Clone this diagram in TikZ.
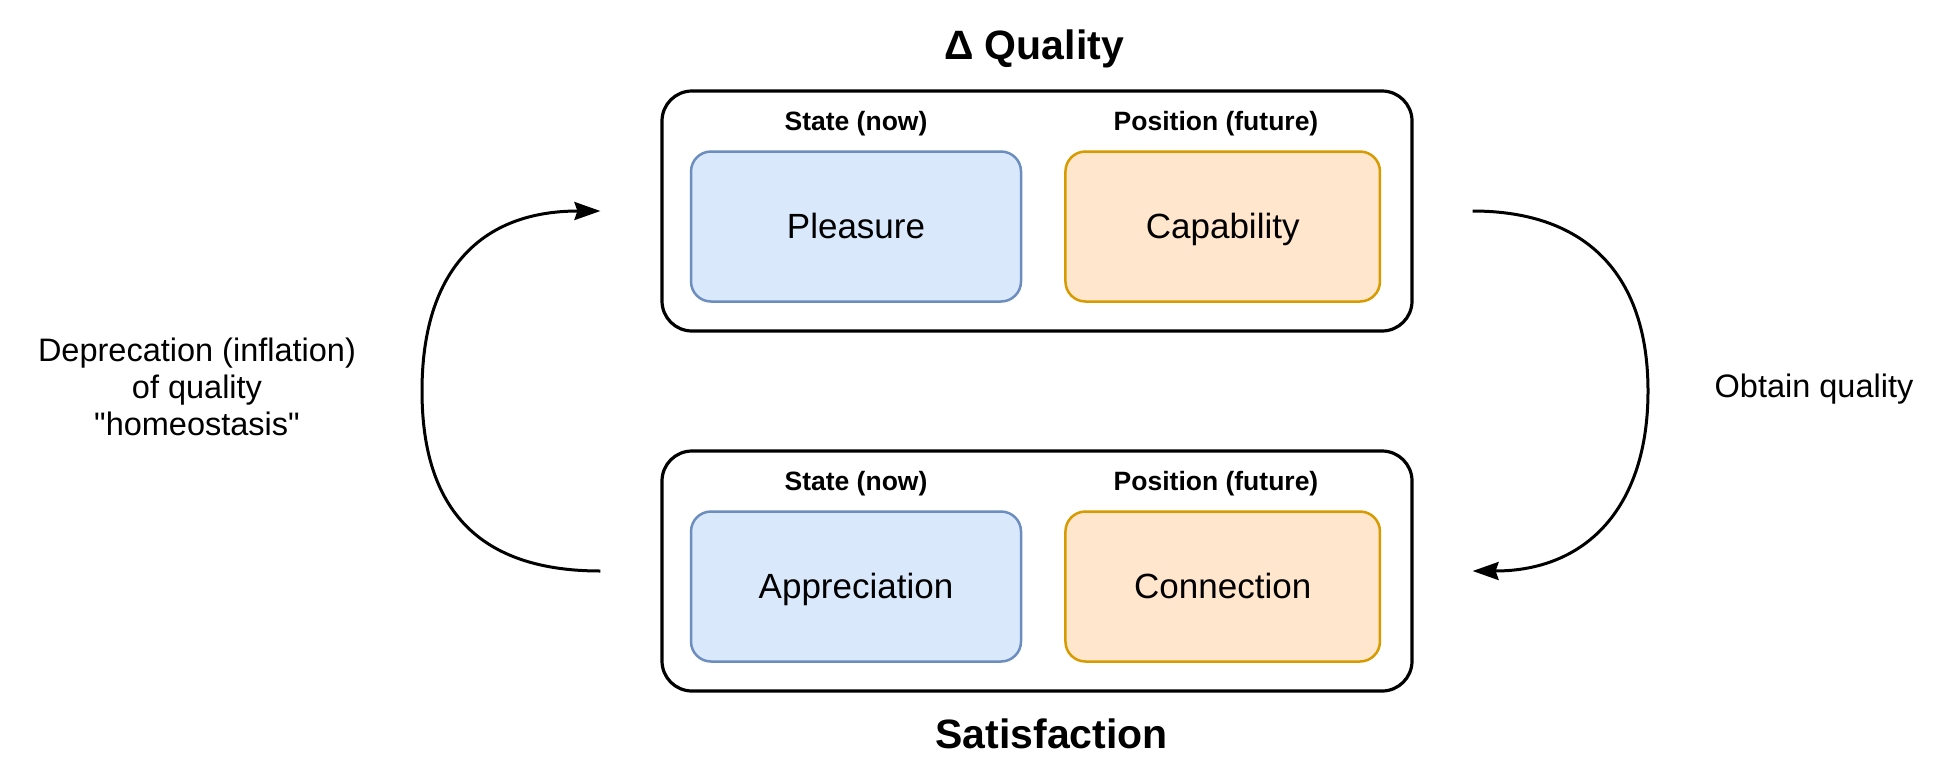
\documentclass[tikz,border=0pt]{standalone}
\usepackage{fontspec}
\setmainfont{Liberation Sans}
\newfontfamily\rawsans{Liberation Sans}
\usetikzlibrary{arrows.meta}
\definecolor{bluefill}{HTML}{DAE8FC}
\definecolor{bluedraw}{HTML}{6C8EBF}
\definecolor{orangefill}{HTML}{FFE6CC}
\definecolor{orangedraw}{HTML}{D79B00}
\begin{document}
\begin{tikzpicture}[x=1pt,y=-1pt,
  outerbox/.style={draw=black, line width=3.2pt, rounded corners=30pt,
    minimum width=750pt, minimum height=240pt, inner sep=0pt},
  innerbox/.style={line width=2.5pt, rounded corners=20pt, minimum height=150pt,
    inner sep=0pt, font=\fontsize{35}{42}\selectfont, text height=23pt, text depth=0pt},
  nowbox/.style={innerbox, draw=bluedraw, fill=bluefill, minimum width=330pt},
  futurebox/.style={innerbox, draw=orangedraw, fill=orangefill, minimum width=314.5pt},
  header/.style={font=\fontsize{26.5}{32}\selectfont\bfseries, inner sep=0pt, anchor=base},
  title/.style={font=\fontsize{41}{49}\selectfont\bfseries, inner sep=0pt, anchor=base},
  edgelabel/.style={font=\fontsize{32.5}{39}\selectfont, inner sep=0pt, anchor=base},
  loop/.style={line width=3pt, -{Stealth[length=26pt,width=18pt,inset=3pt]}}
]
\useasboundingbox[fill=white] (0,0) rectangle (1950,780);

% Top group
\node[outerbox] (qbox) at (1037,211) {};
\node[nowbox] (pleasure) at (856,226.5) {Pleasure};
\node[futurebox] (capability) at (1222.7,226.5) {Capability};
\node[header] (qstate) at (856,130) {State (now)};
\node[header] (qpos) at (1216,130) {Position (future)};
\node[title] (qtitle) at (1034,59.3) {Δ Quality};

% Bottom group
\node[outerbox] (sbox) at (1037,571) {};
\node[nowbox] (appreciation) at (856,586.5) {Appreciation};
\node[futurebox] (connection) at (1222.7,586.5) {Connection};
\node[header] (sstate) at (856,490) {State (now)};
\node[header] (spos) at (1216,490) {Position (future)};
\node[title] (stitle) at (1051.7,748.3) {Satisfaction};

% Edge labels
\node[edgelabel] (dep1) at (197,361.7) {Deprecation (inflation)};
\node[edgelabel] (dep2) at (197,398.5) {of quality};
\node[edgelabel] (dep3) at (197,435.2) {\rawsans "homeostasis"};
\node[edgelabel] (obtain) at (1814,397.5) {Obtain quality};

% Connector end points
\coordinate (lq) at ([xshift=-60pt]qbox.west);
\coordinate (ls) at ([xshift=-60pt]sbox.west);
\coordinate (rq) at ([xshift=59pt]qbox.east);
\coordinate (rs) at ([xshift=59pt]sbox.east);
\coordinate (lmid) at (422,391);
\coordinate (rmid) at (1648,391);

% Loops
\draw[loop] (ls) .. controls +(-120,0) and +(0,120) .. (lmid)
  .. controls +(0,-120) and +(-120,0) .. (lq);
\draw[loop] (rq) .. controls +(115,0) and +(0,-115) .. (rmid)
  .. controls +(0,115) and +(115,0) .. (rs);
\end{tikzpicture}
\end{document}
